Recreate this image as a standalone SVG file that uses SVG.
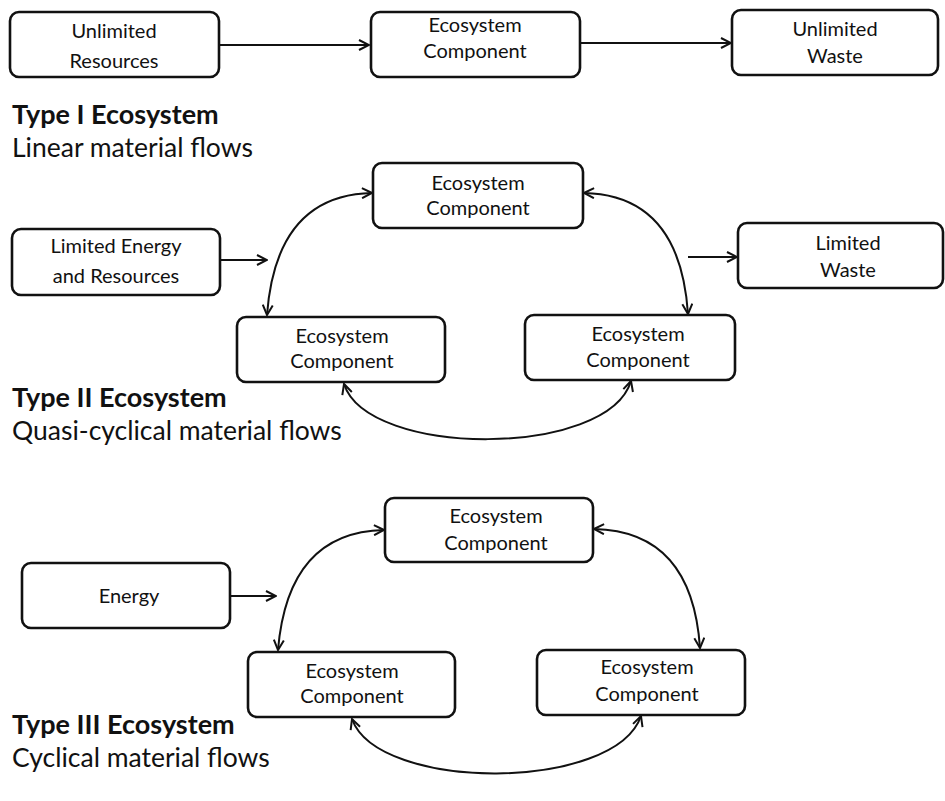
<svg xmlns="http://www.w3.org/2000/svg" width="945" height="801" viewBox="0 0 945 801">
<style>
.box{fill:#fff;stroke:#111;stroke-width:2.6}
.t{font-family:Lato,"Open Sans",sans-serif;font-size:20px;fill:#111;text-anchor:middle}
.h{font-family:Lato,"Open Sans",sans-serif;font-size:27px;font-weight:bold;fill:#111}
.s{font-family:Lato,"Open Sans",sans-serif;font-size:26.5px;fill:#111}
.c{fill:none;stroke:#111;stroke-width:2}
</style>
<defs>
<marker id="a" viewBox="0 0 12 12" refX="11" refY="6" markerWidth="12" markerHeight="12" markerUnits="userSpaceOnUse" orient="auto-start-reverse">
<path d="M1,1 L11,6 L1,11" fill="none" stroke="#111" stroke-width="2"/>
</marker>
</defs>
<rect width="945" height="801" fill="#fff"/>
<g id="connectors">
<path class="c" d="M219,45 L369,45" marker-end="url(#a)"/>
<path class="c" d="M580,43 L731,43" marker-end="url(#a)"/>
<path class="c" d="M220,260 L267,260" marker-end="url(#a)"/>
<path class="c" d="M688,257 L737,257" marker-end="url(#a)"/>
<path class="c" d="M230,596 L276,596" marker-end="url(#a)"/>
<path class="c" d="M372,193 Q276,195 267,315" marker-start="url(#a)" marker-end="url(#a)"/>
<path class="c" d="M584,193 Q680,195 688,314" marker-start="url(#a)" marker-end="url(#a)"/>
<path class="c" d="M344,384 C368,458 608,458 631,381" marker-start="url(#a)" marker-end="url(#a)"/>
<path class="c" d="M384,530 Q288,532 278,650" marker-start="url(#a)" marker-end="url(#a)"/>
<path class="c" d="M594,529 Q692,531 700,648" marker-start="url(#a)" marker-end="url(#a)"/>
<path class="c" d="M352,719 C378,792 615,792 641,716" marker-start="url(#a)" marker-end="url(#a)"/>
</g>
<g id="n1"><rect class="box" x="10" y="12" width="209" height="65" rx="9"/><text class="t" x="114" y="38">Unlimited</text><text class="t" x="114" y="68">Resources</text></g>
<g id="n2"><rect class="box" x="371" y="12" width="209" height="65" rx="9"/><text class="t" x="475" y="32">Ecosystem</text><text class="t" x="475" y="58">Component</text></g>
<g id="n3"><rect class="box" x="732" y="10" width="206" height="65" rx="9"/><text class="t" x="835" y="36">Unlimited</text><text class="t" x="835" y="63">Waste</text></g>
<g id="title1"><text class="h" x="12" y="124">Type I Ecosystem</text><text class="s" x="12" y="157">Linear material flows</text></g>
<g id="n4"><rect class="box" x="373" y="163" width="210" height="65" rx="9"/><text class="t" x="478" y="190">Ecosystem</text><text class="t" x="478" y="215">Component</text></g>
<g id="n5"><rect class="box" x="12" y="229" width="208" height="66" rx="9"/><text class="t" x="116" y="253">Limited Energy</text><text class="t" x="116" y="283">and Resources</text></g>
<g id="n6"><rect class="box" x="738" y="223" width="205" height="65" rx="9"/><text class="t" x="848" y="250">Limited</text><text class="t" x="848" y="277">Waste</text></g>
<g id="n7"><rect class="box" x="237" y="317" width="208" height="65" rx="9"/><text class="t" x="342" y="343">Ecosystem</text><text class="t" x="342" y="368">Component</text></g>
<g id="n8"><rect class="box" x="525" y="315" width="210" height="65" rx="9"/><text class="t" x="638" y="341">Ecosystem</text><text class="t" x="638" y="367">Component</text></g>
<g id="title2"><text class="h" x="12" y="407">Type II Ecosystem</text><text class="s" x="12" y="440">Quasi-cyclical material flows</text></g>
<g id="n9"><rect class="box" x="385" y="498" width="208" height="64" rx="9"/><text class="t" x="496" y="523">Ecosystem</text><text class="t" x="496" y="550">Component</text></g>
<g id="n10"><rect class="box" x="22" y="563" width="208" height="65" rx="9"/><text class="t" x="129" y="603">Energy</text></g>
<g id="n11"><rect class="box" x="248" y="652" width="207" height="65" rx="9"/><text class="t" x="352" y="678">Ecosystem</text><text class="t" x="352" y="703">Component</text></g>
<g id="n12"><rect class="box" x="537" y="650" width="208" height="65" rx="9"/><text class="t" x="647" y="674">Ecosystem</text><text class="t" x="647" y="701">Component</text></g>
<g id="title3"><text class="h" x="12" y="734">Type III Ecosystem</text><text class="s" x="12" y="767">Cyclical material flows</text></g>
</svg>
